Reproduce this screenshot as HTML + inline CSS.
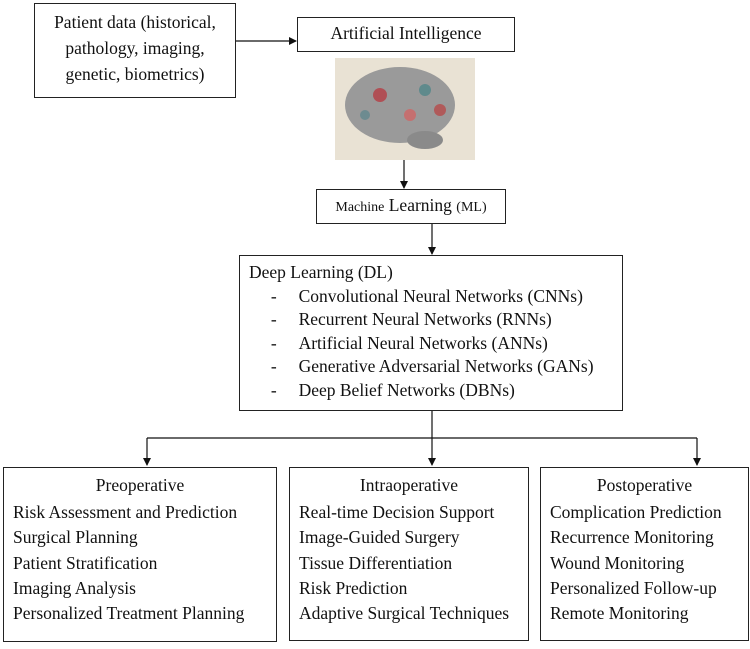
<!DOCTYPE html>
<html><head><style>
body{margin:0;width:750px;height:649px;background:#fff;position:relative;overflow:hidden;font-family:"Liberation Serif",serif;color:#111}
.b{position:absolute;border:1.5px solid #222;box-sizing:border-box;background:#fff}
.t{position:absolute;font-size:17.5px;white-space:nowrap}
.c{text-align:center}
</style></head><body>
<svg width="750" height="649" style="position:absolute;left:0;top:0">
<defs><marker id="a" markerWidth="8" markerHeight="8" refX="7" refY="4" orient="auto" markerUnits="userSpaceOnUse"><path d="M0,0L8,4L0,8z" fill="#111"/></marker></defs>
<g stroke="#111" stroke-width="1.2" fill="none">
<line x1="235" y1="41" x2="296" y2="41" marker-end="url(#a)"/>
<line x1="404" y1="160" x2="404" y2="188" marker-end="url(#a)"/>
<line x1="432" y1="223" x2="432" y2="254" marker-end="url(#a)"/>
<line x1="432" y1="410" x2="432" y2="465" marker-end="url(#a)"/>
<line x1="147" y1="438" x2="697" y2="438"/>
<line x1="147" y1="438" x2="147" y2="465" marker-end="url(#a)"/>
<line x1="697" y1="438" x2="697" y2="465" marker-end="url(#a)"/>
</g>
<rect x="335" y="58" width="140" height="102" fill="#e9e2d4"/>
<ellipse cx="400" cy="105" rx="55" ry="38" fill="#9a9a9a"/>
<circle cx="380" cy="95" r="7" fill="#b04f55"/><circle cx="425" cy="90" r="6" fill="#5f8a8c"/><circle cx="410" cy="115" r="6" fill="#c57070"/><circle cx="365" cy="115" r="5" fill="#6d8b90"/><circle cx="440" cy="110" r="6" fill="#b05a5a"/>
<ellipse cx="425" cy="140" rx="18" ry="9" fill="#8a8a8a"/>
</svg>
<div class="b" style="left:34px;top:3px;width:202px;height:95px"></div>
<div class="t c" style="left:34px;top:9px;width:202px;line-height:26px">Patient data (historical,<br>pathology, imaging,<br>genetic, biometrics)</div>
<div class="b" style="left:297px;top:17px;width:218px;height:35px"></div>
<div class="t c" style="left:297px;top:23px;width:218px">Artificial Intelligence</div>
<div class="b" style="left:316px;top:189px;width:190px;height:35px"></div>
<div class="t c" style="left:316px;top:195px;width:190px"><span style="font-size:14px">Machine</span> Learning <span style="font-size:14px">(ML)</span></div>
<div class="b" style="left:239px;top:255px;width:384px;height:156px"></div>
<div class="t" style="left:249px;top:261px;line-height:23.5px">Deep Learning (DL)<br>
&nbsp;&nbsp;&nbsp;&nbsp;&nbsp;-&nbsp;&nbsp;&nbsp;&nbsp;&nbsp;Convolutional Neural Networks (CNNs)<br>
&nbsp;&nbsp;&nbsp;&nbsp;&nbsp;-&nbsp;&nbsp;&nbsp;&nbsp;&nbsp;Recurrent Neural Networks (RNNs)<br>
&nbsp;&nbsp;&nbsp;&nbsp;&nbsp;-&nbsp;&nbsp;&nbsp;&nbsp;&nbsp;Artificial Neural Networks (ANNs)<br>
&nbsp;&nbsp;&nbsp;&nbsp;&nbsp;-&nbsp;&nbsp;&nbsp;&nbsp;&nbsp;Generative Adversarial Networks (GANs)<br>
&nbsp;&nbsp;&nbsp;&nbsp;&nbsp;-&nbsp;&nbsp;&nbsp;&nbsp;&nbsp;Deep Belief Networks (DBNs)</div>
<div class="b" style="left:3px;top:467px;width:274px;height:175px"></div>
<div class="t c" style="left:3px;top:475px;width:274px">Preoperative</div>
<div class="t" style="left:13px;top:500px;line-height:25.3px">Risk Assessment and Prediction<br>Surgical Planning<br>Patient Stratification<br>Imaging Analysis<br>Personalized Treatment Planning</div>
<div class="b" style="left:289px;top:467px;width:240px;height:174px"></div>
<div class="t c" style="left:289px;top:475px;width:240px">Intraoperative</div>
<div class="t" style="left:299px;top:500px;line-height:25.3px">Real-time Decision Support<br>Image-Guided Surgery<br>Tissue Differentiation<br>Risk Prediction<br>Adaptive Surgical Techniques</div>
<div class="b" style="left:540px;top:467px;width:209px;height:174px"></div>
<div class="t c" style="left:540px;top:475px;width:209px">Postoperative</div>
<div class="t" style="left:550px;top:500px;line-height:25.3px">Complication Prediction<br>Recurrence Monitoring<br>Wound Monitoring<br>Personalized Follow-up<br>Remote Monitoring</div>
</body></html>
